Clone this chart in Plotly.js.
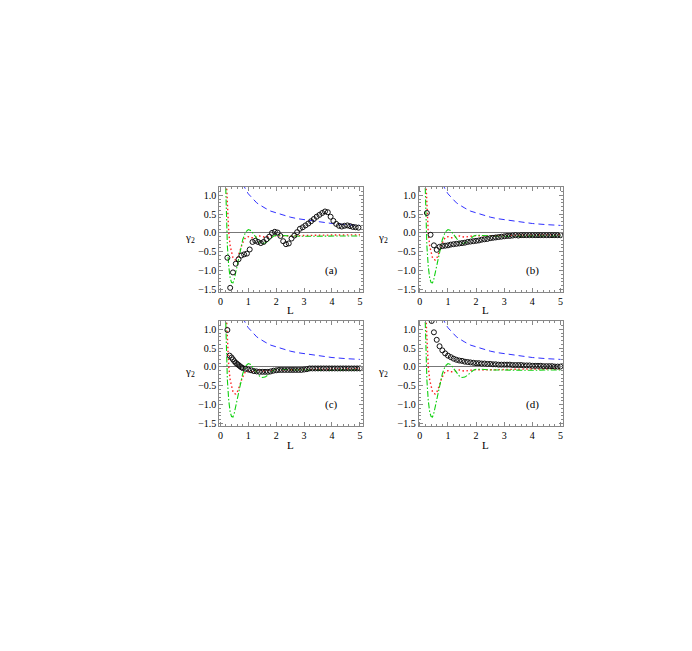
<!DOCTYPE html>
<html><head><meta charset="utf-8">
<script src="https://cdn.plot.ly/plotly-3.0.1.min.js"></script>
<style>html,body{margin:0;padding:0;background:#fff}</style>
</head><body>
<div id="chart" style="width:692px;height:651px"></div>
<script>
// Theory curves (same in every panel)
const L_blue = [0.80,0.86,0.9,1.0,1.1,1.2,1.3,1.4,1.5,1.6,1.8,2.0,2.25,2.5,2.75,3.0,3.5,4.0,4.5,5.0];
const y_blue = [1.32,1.22,1.16,1.04,0.95,0.87,0.80,0.75,0.70,0.66,0.58,0.53,0.47,0.42,0.38,0.35,0.30,0.25,0.22,0.20];

const L_red = [0.2,0.22,0.25,0.28,0.3,0.35,0.4,0.45,0.5,0.55,0.6,0.65,0.7,0.75,0.8,0.85,0.9,1.0,1.1,1.2,1.3,1.4,1.5,1.6,1.8,2.0,2.2,2.5,3.0,3.5,4.0,4.5,5.0];
const y_red = [1.6,1.2,0.7,0.2,0.0,-0.35,-0.55,-0.66,-0.71,-0.72,-0.68,-0.60,-0.48,-0.36,-0.26,-0.18,-0.13,-0.10,-0.13,-0.13,-0.10,-0.08,-0.10,-0.11,-0.09,-0.07,-0.08,-0.07,-0.07,-0.06,-0.06,-0.05,-0.05];

const L_green = [0.18,0.2,0.22,0.25,0.3,0.35,0.4,0.45,0.5,0.55,0.6,0.7,0.8,0.9,1.0,1.1,1.2,1.3,1.4,1.5,1.6,1.7,1.8,1.9,2.0,2.2,2.5,3.0,3.5,4.0,4.5,5.0];
const y_green = [1.5,0.9,0.3,-0.35,-0.9,-1.2,-1.32,-1.33,-1.22,-1.05,-0.85,-0.5,-0.18,0.02,0.09,0.06,-0.04,-0.15,-0.24,-0.28,-0.27,-0.22,-0.15,-0.09,-0.06,-0.06,-0.08,-0.09,-0.08,-0.09,-0.08,-0.08];

// Data points (circles) per panel
const L_a = [0.25,0.35,0.45,0.55,0.65,0.75,0.85,0.95,1.05,1.15,1.25,1.35,1.45,1.55,1.65,1.75,1.85,1.95,2.05,2.15,2.25,2.35,2.45,2.55,2.65,2.75,2.85,2.95,3.05,3.15,3.25,3.35,3.45,3.55,3.65,3.75,3.85,3.95,4.05,4.15,4.25,4.35,4.45,4.55,4.65,4.75,4.85,4.95];
const y_a = [-0.66,-1.46,-1.05,-0.82,-0.70,-0.60,-0.57,-0.55,-0.44,-0.24,-0.21,-0.24,-0.27,-0.24,-0.17,-0.10,0.00,0.03,0.01,-0.08,-0.22,-0.30,-0.28,-0.15,-0.07,0.02,0.11,0.15,0.20,0.25,0.31,0.37,0.43,0.48,0.53,0.57,0.55,0.43,0.32,0.24,0.19,0.17,0.19,0.20,0.18,0.16,0.15,0.14];

const L_b = [0.25,0.38,0.5,0.6,0.7,0.8,0.9,1.0,1.1,1.2,1.3,1.4,1.5,1.6,1.7,1.8,1.9,2.0,2.1,2.2,2.3,2.4,2.5,2.6,2.7,2.8,2.9,3.0,3.1,3.2,3.3,3.4,3.5,3.6,3.7,3.8,3.9,4.0,4.1,4.2,4.3,4.4,4.5,4.6,4.7,4.8,4.9,5.0];
const y_b = [0.53,-0.05,-0.33,-0.45,-0.37,-0.35,-0.34,-0.33,-0.31,-0.30,-0.29,-0.28,-0.27,-0.26,-0.24,-0.23,-0.22,-0.21,-0.20,-0.18,-0.17,-0.16,-0.14,-0.13,-0.12,-0.11,-0.10,-0.09,-0.08,-0.08,-0.07,-0.06,-0.07,-0.06,-0.06,-0.06,-0.06,-0.06,-0.06,-0.06,-0.06,-0.06,-0.06,-0.06,-0.06,-0.06,-0.06,-0.06];

const L_c = [0.25,0.33,0.4,0.45,0.5,0.55,0.6,0.65,0.7,0.75,0.8,0.9,1.0,1.1,1.2,1.3,1.4,1.5,1.6,1.7,1.8,1.9,2.0,2.1,2.2,2.3,2.4,2.5,2.6,2.7,2.8,2.9,3.0,3.1,3.2,3.3,3.4,3.5,3.6,3.7,3.8,3.9,4.0,4.1,4.2,4.3,4.4,4.5,4.6,4.7,4.8,4.9,5.0];
const y_c = [0.98,0.30,0.25,0.20,0.15,0.11,0.08,0.05,0.02,-0.01,-0.03,-0.05,-0.07,-0.09,-0.11,-0.12,-0.13,-0.13,-0.13,-0.13,-0.12,-0.10,-0.09,-0.08,-0.08,-0.08,-0.08,-0.08,-0.08,-0.08,-0.08,-0.08,-0.07,-0.06,-0.04,-0.04,-0.04,-0.04,-0.04,-0.04,-0.04,-0.04,-0.04,-0.04,-0.04,-0.04,-0.04,-0.04,-0.04,-0.04,-0.04,-0.04,-0.04];

const L_d = [0.42,0.5,0.6,0.7,0.8,0.9,1.0,1.1,1.2,1.3,1.4,1.5,1.6,1.7,1.8,1.9,2.0,2.1,2.2,2.3,2.4,2.5,2.6,2.7,2.8,2.9,3.0,3.1,3.2,3.3,3.4,3.5,3.6,3.7,3.8,3.9,4.0,4.1,4.2,4.3,4.4,4.5,4.6,4.7,4.8,4.9,5.0];
const y_d = [1.22,0.92,0.72,0.55,0.44,0.36,0.30,0.26,0.22,0.19,0.17,0.16,0.14,0.13,0.12,0.11,0.10,0.10,0.09,0.09,0.08,0.08,0.07,0.07,0.06,0.06,0.06,0.06,0.06,0.05,0.05,0.05,0.05,0.04,0.04,0.04,0.03,0.03,0.03,0.03,0.02,0.02,0.02,0.02,0.01,0.01,0.01];

const panelLabels = ['(a)','(b)','(c)','(d)'];
const xTickVals = [0,1,2,3,4,5];
const yTickVals = [-1.5,-1.0,-0.5,0.0,0.5,1.0];
const yTickText = ['\u22121.5','\u22121.0','\u22120.5','0.0','0.5','1.0'];

const panels = [[L_a,y_a],[L_b,y_b],[L_c,y_c],[L_d,y_d]];
const traces = [];
panels.forEach((p,i)=>{
  const xa = i===0?'x':'x'+(i+1), ya = i===0?'y':'y'+(i+1);
  traces.push({x:L_blue,y:y_blue,xaxis:xa,yaxis:ya,mode:'lines',line:{color:'#3030ff',width:1,dash:'6px,4px'},hoverinfo:'skip'});
  traces.push({x:L_red,y:y_red,xaxis:xa,yaxis:ya,mode:'lines',line:{color:'#ff2020',width:1.4,dash:'1.5px,2.5px'},hoverinfo:'skip'});
  traces.push({x:L_green,y:y_green,xaxis:xa,yaxis:ya,mode:'lines',line:{color:'#10d010',width:1.1,dash:'6px,2px,1.5px,2px'},hoverinfo:'skip'});
  traces.push({x:p[0],y:p[1],xaxis:xa,yaxis:ya,mode:'markers',cliponaxis:true,marker:{symbol:'circle-open',size:5,color:'#111',line:{width:1,color:'#111'}}});
});

const font = {family:'Liberation Serif',size:10,color:'#000'};
const fontL = {family:'Liberation Serif',size:11,color:'#000'};
const xDom = [[0.3169,0.5241],[0.6051,0.8140]];
const yDom = [[0.5515,0.7127],[0.3456,0.5069]];
function xax(i){
  return {domain:xDom[i%2],anchor:i===0?'y':'y'+(i+1),range:[-0.04,5.1],tickvals:xTickVals,ticktext:xTickVals.map(String),
    ticks:'inside',ticklen:4,tickcolor:'#888',showline:true,linecolor:'#888',linewidth:1,mirror:'allticks',
    showgrid:false,zeroline:false,tickfont:font,
    minor:{dtick:0.2,tick0:0,ticks:'inside',ticklen:2,tickcolor:'#888',showgrid:false}};
}
function yax(i){
  return {domain:yDom[Math.floor(i/2)],anchor:i===0?'x':'x'+(i+1),range:[-1.57,1.22],tickvals:yTickVals,ticktext:yTickText,
    ticks:'inside',ticklen:4,tickcolor:'#888',showline:true,linecolor:'#888',linewidth:1,mirror:'allticks',
    showgrid:false,zeroline:true,zerolinecolor:'#777',zerolinewidth:1,tickfont:font,
    minor:{dtick:0.1,tick0:0,ticks:'inside',ticklen:2,tickcolor:'#888',showgrid:false}};
}
const layout = {width:692,height:651,margin:{l:0,r:0,t:0,b:0},showlegend:false,
  paper_bgcolor:'#fff',plot_bgcolor:'#fff',annotations:[]};
for(let i=0;i<4;i++){
  layout[i===0?'xaxis':'xaxis'+(i+1)] = xax(i);
  layout[i===0?'yaxis':'yaxis'+(i+1)] = yax(i);
  const xa = i===0?'x':'x'+(i+1), ya = i===0?'y':'y'+(i+1);
  layout.annotations.push({x:4.0,y:-1.0,xref:xa,yref:ya,text:panelLabels[i],showarrow:false,font:fontL});
  const cx = xDom[i%2], cy = yDom[Math.floor(i/2)];
  layout.annotations.push({x:(cx[0]+cx[1])/2,y:cy[0]-18.5/651,xref:'paper',yref:'paper',yanchor:'middle',text:'L',showarrow:false,font:fontL});
  layout.annotations.push({x:cx[0]-0.052,y:(cy[0]+cy[1])/2+0.003,xref:'paper',yref:'paper',text:'\u03b3<sub>2</sub>',showarrow:false,font:fontL});
}
Plotly.newPlot('chart',traces,layout,{staticPlot:true});
</script>
</body></html>
